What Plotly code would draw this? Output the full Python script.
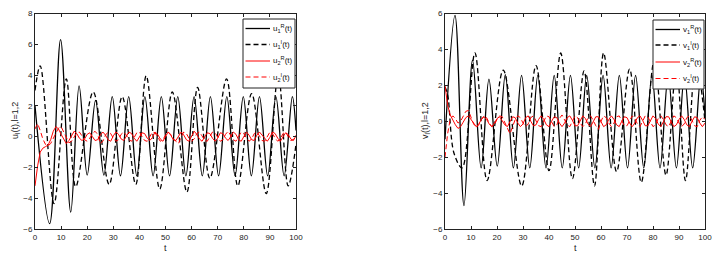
import numpy as np
import plotly.graph_objects as go

# ---------------- data ----------------
# left panel: u1R extrema (solid black)
u1R_t = [0, 5.6, 9.8, 13.7, 16.9, 20.0, 23.2, 26.4, 29.6, 32.75, 35.9, 39.0, 42.1, 45.25,
         48.4, 51.55, 54.7, 57.8, 60.95, 64.1, 67.2, 70.35, 73.5, 76.65, 79.8, 82.9, 86.0,
         89.15, 92.3, 95.45, 98.6, 100]
u1R_v = [2.0, -5.65, 6.3, -4.9, 3.3, -2.5, 2.35, -2.5, 2.6, -2.55, 2.6, -2.55, 2.6, -2.55,
         2.6, -2.55, 2.6, -2.55, 2.6, -2.55, 2.6, -2.55, 2.6, -2.55, 2.6, -2.55, 2.6,
         -2.55, 2.6, -2.55, 2.6, 0.4]
# left panel: u1I extrema (dashed black)
u1I_t = [0, 2.0, 7.3, 12.0, 15.6, 22.3, 28.4, 33.4, 38.6, 42.6, 47.8, 52.6, 58.2, 62.3,
         67.0, 73.4, 77.7, 83.0, 88.6, 93.2, 97.0, 100]
u1I_v = [3.0, 4.6, -4.35, 3.75, -3.25, 2.9, -3.1, 2.6, -3.1, 3.95, -3.4, 2.9, -3.6, 3.2,
         -2.7, 3.75, -3.2, 2.8, -3.7, 4.1, -3.2, -0.5]

# red curves sampled at t = 0,1,...,100
red_t = list(range(0, 101))
u2R_v = [-3.2, -1.9, -1.0, -0.75, -0.65, -0.55, -0.2, 0.35, 0.65, 0.5, 0.15,
         -0.2, -0.45, -0.25, 0.1, 0.35, 0.2, -0.1, -0.25, -0.15, 0.15,
         0.25, 0.0, -0.25, -0.2, 0.1, 0.3, 0.1, -0.2, -0.3, 0.05,
         0.3, 0.15, -0.15, -0.25, 0.0, 0.3, 0.2, -0.1, -0.3, -0.05,
         0.25, 0.2, -0.1, -0.25, -0.05, 0.3, 0.15, -0.15, -0.3, 0.0,
         0.3, 0.1, -0.2, -0.25, 0.05, 0.3, 0.1, -0.2, -0.3, 0.0,
         0.35, 0.15, -0.15, -0.3, -0.05, 0.25, 0.2, -0.1, -0.3, -0.1,
         0.25, 0.2, -0.1, -0.25, 0.0, 0.3, 0.15, -0.2, -0.3, 0.05,
         0.3, 0.1, -0.2, -0.25, 0.1, 0.3, 0.1, -0.15, -0.3, -0.05,
         0.3, 0.2, -0.1, -0.3, 0.0, 0.25, 0.15, -0.15, -0.25, 0.05]
u2I_v = [0.5, 0.85, 0.4, -0.15, -0.5, -0.6, -0.45, -0.1, 0.3, 0.55, 0.65,
         0.3, -0.15, -0.4, -0.3, 0.0, 0.25, 0.3, 0.05, -0.2, -0.3,
         -0.1, 0.2, 0.35, 0.15, -0.45, -0.3, 0.1, 0.3, 0.2, -0.1,
         -0.3, -0.2, 0.15, 0.3, 0.1, -0.2, -0.3, -0.05, 0.25, 0.3,
         0.0, -0.25, -0.3, 0.0, 0.3, 0.25, -0.05, -0.3, -0.2, 0.1,
         0.3, 0.15, -0.15, -0.3, -0.45, 0.0, 0.3, 0.2, -0.1, -0.3,
         -0.15, 0.2, 0.3, 0.05, -0.25, -0.3, 0.0, 0.3, 0.25, -0.05,
         -0.3, -0.2, 0.15, 0.35, 0.1, -0.2, -0.3, 0.0, 0.3, 0.2,
         -0.1, -0.3, -0.15, 0.2, 0.3, 0.05, -0.25, -0.3, 0.05, 0.3,
         0.2, -0.1, -0.3, -0.15, 0.2, 0.3, 0.0, -0.25, -0.2, 0.1]

# right panel: v1R extrema (solid black)
v1R_t = [0, 3.85, 7.3, 10.6, 13.9, 16.9, 20.1, 23.2, 26.3, 29.45, 32.6, 35.7, 38.85, 42.0,
         45.1, 48.25, 51.4, 54.5, 57.65, 60.8, 63.9, 67.05, 70.2, 73.3, 76.45, 79.6, 82.7,
         85.85, 89.0, 92.1, 95.25, 98.4, 100]
v1R_v = [-1.0, 5.9, -4.7, 3.4, -2.6, 2.35, -2.5, 2.6, -2.6, 2.55, -2.6, 2.55, -2.6, 2.55,
         -2.6, 2.55, -2.6, 2.55, -2.6, 2.55, -2.6, 2.55, -2.6, 2.55, -2.6, 2.55, -2.6,
         2.55, -2.6, 2.55, -2.6, 2.55, 0.3]
# right panel: v1I extrema (dashed black)
v1I_t = [0, 1.0, 3.5, 6.6, 11.5, 16.2, 22.4, 29.5, 35.0, 40.0, 44.5, 49.0, 53.5, 57.5,
         61.0, 66.0, 71.0, 75.5, 80.5, 85.0, 89.0, 92.5, 96.5, 100]
v1I_v = [1.9, 1.5, -1.8, -2.6, 3.8, -3.3, 2.85, -3.6, 3.1, -2.75, 3.8, -3.2, 2.8, -3.6,
         3.8, -2.8, 2.9, -3.4, 3.4, -3.0, 3.0, -3.3, 3.3, 0.0]

v2R_v = [2.0, 0.9, 0.35, 0.05, -0.2, -0.4, -0.3, -0.05, 0.2, 0.3, 0.1,
         -0.15, -0.3, -0.15, 0.1, 0.25, 0.1, -0.15, -0.3, -0.1, 0.15,
         0.25, 0.05, -0.2, -0.3, 0.0, 0.25, 0.2, -0.1, -0.3, -0.15,
         0.2, 0.3, 0.0, -0.25, -0.2, 0.1, 0.3, 0.1, -0.2, -0.3,
         0.0, 0.25, 0.2, -0.1, -0.3, -0.1, 0.2, 0.3, 0.05, -0.25,
         -0.25, 0.05, 0.3, 0.15, -0.15, -0.3, -0.05, 0.25, 0.25, -0.05,
         -0.3, -0.2, 0.1, 0.3, 0.1, -0.2, -0.3, 0.0, 0.25, 0.2,
         -0.1, -0.3, -0.1, 0.2, 0.3, 0.05, -0.25, -0.25, 0.05, 0.3,
         0.15, -0.15, -0.3, -0.05, 0.25, 0.25, -0.05, -0.3, -0.2, 0.1,
         0.3, 0.1, -0.2, -0.3, 0.0, 0.25, 0.2, -0.1, -0.3, -0.1]
v2I_v = [-2.0, -0.7, 0.1, 0.3, 0.15, -0.1, 0.0, 0.3, 0.55, 0.6, 0.2,
         -0.15, -0.35, -0.2, 0.1, 0.3, 0.2, -0.1, -0.3, -0.2, 0.1,
         0.3, 0.25, -0.05, -0.35, -0.7, -0.3, 0.1, 0.3, 0.2, -0.1,
         -0.3, -0.15, 0.2, 0.3, 0.05, -0.25, -0.3, 0.05, 0.3, 0.25,
         -0.05, -0.3, -0.2, 0.15, 0.35, 0.1, -0.2, -0.3, 0.0, 0.3,
         0.2, -0.1, -0.3, -0.15, 0.2, 0.3, 0.05, -0.25, -0.45, 0.0,
         0.3, 0.2, -0.1, -0.3, -0.1, 0.25, 0.3, 0.0, -0.25, -0.25,
         0.05, 0.3, 0.15, -0.15, -0.3, 0.0, 0.3, 0.25, -0.05, -0.3,
         -0.2, 0.15, 0.3, 0.1, -0.2, -0.3, 0.0, 0.3, 0.2, -0.1,
         -0.3, -0.15, 0.2, 0.3, 0.05, -0.25, -0.3, 0.05, 0.25, 0.1]

x_ticks = [0, 10, 20, 30, 40, 50, 60, 70, 80, 90, 100]
yL_ticks = [-6, -4, -2, 0, 2, 4, 6, 8]
yR_ticks = [-6, -4, -2, 0, 2, 4, 6]

left_names = ["u<sub>1</sub><sup>R</sup>(t)", "u<sub>1</sub><sup>I</sup>(t)",
              "u<sub>2</sub><sup>R</sup>(t)", "u<sub>2</sub><sup>I</sup>(t)"]
right_names = ["v<sub>1</sub><sup>R</sup>(t)", "v<sub>1</sub><sup>I</sup>(t)",
               "v<sub>2</sub><sup>R</sup>(t)", "v<sub>2</sub><sup>I</sup>(t)"]

# ---------------- figure ----------------
W, H = 720, 261
FONT = "Liberation Sans, Arial, sans-serif"
DASH = "5px,3px"
COLORS = ["black", "black", "red", "red"]
DASHES = ["solid", DASH, "solid", DASH]
WIDTHS = [1.3, 1.3, 1.0, 1.0]
fig = go.Figure()

def add(x, y, name, i, xa, ya, spline):
    fig.add_trace(go.Scatter(
        x=x, y=y, name=name, mode="lines", xaxis=xa, yaxis=ya, showlegend=False,
        hoverinfo="skip",
        line=dict(color=COLORS[i], width=WIDTHS[i], dash=DASHES[i],
                  shape="spline" if spline else "linear", smoothing=1.0)))

add(u1R_t, u1R_v, left_names[0], 0, "x", "y", True)
add(u1I_t, u1I_v, left_names[1], 1, "x", "y", True)
add(red_t, u2R_v, left_names[2], 2, "x", "y", False)
add(red_t, u2I_v, left_names[3], 3, "x", "y", False)

add(v1R_t, v1R_v, right_names[0], 0, "x2", "y2", True)
add(v1I_t, v1I_v, right_names[1], 1, "x2", "y2", True)
add(red_t, v2R_v, right_names[2], 2, "x2", "y2", False)
add(red_t, v2I_v, right_names[3], 3, "x2", "y2", False)

axis_common = dict(showline=True, linecolor="#222", linewidth=1, mirror="ticks",
                   ticks="inside", ticklen=3, tickcolor="#222", showgrid=False,
                   zeroline=False, automargin=False,
                   tickfont=dict(size=8, family=FONT, color="#222"))

ydom = [1 - 229 / H, 1 - 13.5 / H]
fig.update_layout(
    width=W, height=H, margin=dict(l=0, r=0, t=0, b=0, autoexpand=False),
    paper_bgcolor="white", plot_bgcolor="white",
    font=dict(family=FONT, size=8, color="black"),
    xaxis=dict(domain=[35 / W, 296 / W], range=[0, 100], tickvals=x_ticks, anchor="y", **axis_common),
    yaxis=dict(domain=ydom, range=[-6, 8], tickvals=yL_ticks, anchor="x", **axis_common),
    xaxis2=dict(domain=[445 / W, 705 / W], range=[0, 100], tickvals=x_ticks, anchor="y2", **axis_common),
    yaxis2=dict(domain=ydom, range=[-6, 6], tickvals=yR_ticks, anchor="x2", **axis_common),
    showlegend=False,
)

# ---- legend boxes (pixel layout converted to paper coords) ----
def px(x):
    return x / W

def py(y):
    return 1 - y / H

def legend(box, sample_x0, sample_x1, text_x, rows, names):
    x0, y0, x1, y1 = box
    fig.add_shape(type="rect", xref="paper", yref="paper",
                  x0=px(x0), x1=px(x1), y0=py(y1), y1=py(y0),
                  line=dict(color="#222", width=1), fillcolor="white", layer="above")
    for i, (ry, nm) in enumerate(zip(rows, names)):
        fig.add_shape(type="line", xref="paper", yref="paper",
                      x0=px(sample_x0), x1=px(sample_x1), y0=py(ry), y1=py(ry),
                      line=dict(color=COLORS[i], width=WIDTHS[i], dash=DASHES[i]),
                      layer="above")
        fig.add_annotation(xref="paper", yref="paper", x=px(text_x), y=py(ry),
                           text=nm, showarrow=False, xanchor="left", yanchor="middle",
                           font=dict(size=8, family=FONT, color="#111"))

legend((243, 19, 295, 88), 245.5, 270, 271, [28.5, 44.5, 61, 77], left_names)
legend((653, 20, 704, 89), 655.5, 680, 681, [29.5, 45, 62, 78.5], right_names)

annots = [
    dict(text="u<sub>l</sub>(t),l=1,2", x=15 / W, y=1 - 121 / H, textangle=-90),
    dict(text="v<sub>l</sub>(t),l=1,2", x=425 / W, y=1 - 121 / H, textangle=-90),
    dict(text="t", x=165.5 / W, y=1 - 248 / H, textangle=0),
    dict(text="t", x=575 / W, y=1 - 248 / H, textangle=0),
]
for a in annots:
    fig.add_annotation(xref="paper", yref="paper", showarrow=False,
                       xanchor="center", yanchor="middle",
                       font=dict(size=9, family=FONT, color="#222"), **a)

fig.write_html("out.html", config={"displayModeBar": False, "staticPlot": True},
               post_script="document.body.style.margin='0';document.body.style.padding='0';")
